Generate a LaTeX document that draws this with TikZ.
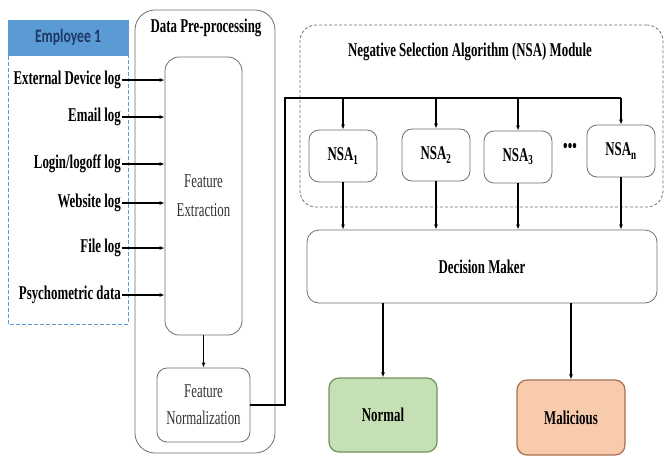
\documentclass[tikz,border=0pt]{standalone}
\usepackage{fontspec}
\setmainfont{Liberation Serif}[FakeStretch=0.66]
\newfontfamily\empfont{Carlito}[FakeStretch=0.72]
\usepackage{xcolor}
\usepackage{tikz}
\usetikzlibrary{arrows.meta}

\definecolor{empblue}{RGB}{91,155,213}
\definecolor{empnavy}{RGB}{31,56,100}
\definecolor{boxgrey}{RGB}{110,110,110}
\definecolor{normalfill}{RGB}{197,224,180}
\definecolor{normaldraw}{RGB}{115,145,95}
\definecolor{malfill}{RGB}{248,203,173}
\definecolor{maldraw}{RGB}{170,110,80}

\begin{document}
\begin{tikzpicture}[x=1pt, y=-1pt,
        font=\rmfamily\fontsize{19.5}{23}\selectfont,
        box/.style={draw=boxgrey, line width=0.8pt, rounded corners=10pt, inner sep=1pt},
        lbl/.style={anchor=east, inner sep=1pt, font=\rmfamily\fontsize{19.5}{23}\selectfont\bfseries},
        ttl/.style={font=\rmfamily\fontsize{19.5}{23}\selectfont\bfseries},
        inarrow/.style={-{Latex[length=5pt,width=4pt]}, line width=1.8pt},
        thinarrow/.style={-{Latex[length=5pt,width=4pt]}, line width=1.1pt}]

                \useasboundingbox (0,0) rectangle (664,456);

                %% Employee
                \draw[empblue, dash pattern=on 4pt off 2pt, line width=1pt] (8,20) rectangle (128,324);
                \node[fill=empblue, draw=empblue, minimum width=120, minimum height=35,
                      font=\empfont\fontsize{19}{22}\selectfont\bfseries, text=empnavy] (emp) at (68,37.5) {Employee 1};

                \node[lbl] (ext)   at (122,80)  {External Device log};
                \node[lbl] (email) at (122,117) {Email log};
                \node[lbl] (login) at (122,164) {Login/logoff log};
                \node[lbl] (web)   at (122,203) {Website log};
                \node[lbl] (file)  at (122,248) {File log};
                \node[lbl] (psy)   at (122,295) {Psychometric data};

                %% Data Pre-processing
                \node[box, rounded corners=20pt, minimum width=140, minimum height=443] (pre) at (205,231.5) {};
                \node[ttl] (pretitle) at (206,28) {Data Pre-processing};

                \node[box, rounded corners=14pt, minimum width=77, minimum height=278, align=center,
                      text=black!80] (fe) at (203.5,196) {Feature\\[6pt]Extraction};
                \node[box, rounded corners=10pt, minimum width=93, minimum height=74, align=center,
                      text=black!80] (fn) at (203.5,405) {Feature\\[4pt]Normalization};

                \draw[inarrow] (ext.east)   -- (ext.east -| fe.west);
                \draw[inarrow] (email.east) -- (email.east -| fe.west);
                \draw[inarrow] (login.east) -- (login.east -| fe.west);
                \draw[inarrow] (web.east)   -- (web.east -| fe.west);
                \draw[inarrow] (file.east)  -- (file.east -| fe.west);
                \draw[inarrow] (psy.east)   -- (psy.east -| fe.west);

                \draw[-{Latex[length=5pt,width=4pt]}, line width=1.4pt] (fe.south) -- (fn.north);

                %% NSA module
                \node[draw=boxgrey, line width=0.8pt, dash pattern=on 3pt off 2pt, rounded corners=16pt,
                      minimum width=363, minimum height=182] (nsa) at (481.5,116) {};
                \node[ttl] (nsatitle) at (470,52) {Negative Selection Algorithm (NSA) Module};

                \node[box, fill=white, minimum width=68, minimum height=52, ttl] (nsa1) at (343,156) {NSA\textsubscript{1}};
                \node[box, fill=white, minimum width=68, minimum height=52, ttl] (nsa2) at (436,155) {NSA\textsubscript{2}};
                \node[box, fill=white, minimum width=68, minimum height=52, ttl] (nsa3) at (518,157) {NSA\textsubscript{3}};
                \node[box, fill=white, minimum width=68, minimum height=52, ttl] (nsan) at (621,151) {NSA\textsubscript{n}};
                \node[ttl] (dots) at (570,148) {•••};

                % bus from normalization
                \coordinate (turn) at (285,98);
                \draw[line width=2.2pt] (fn.east) -| (turn) -- (turn -| nsan.north);
                \draw[thinarrow] (nsa1.north |- turn) -- (nsa1.north);
                \draw[thinarrow] (nsa2.north |- turn) -- (nsa2.north);
                \draw[thinarrow] (nsa3.north |- turn) -- (nsa3.north);
                \draw[thinarrow] (nsan.north |- turn) -- (nsan.north);

                %% Decision Maker
                \node[box, rounded corners=12pt, minimum width=350, minimum height=73, ttl] (dm) at (482,266.5) {Decision Maker};

                \draw[thinarrow] (nsa1.south) -- (nsa1.south |- dm.north);
                \draw[thinarrow] (nsa2.south) -- (nsa2.south |- dm.north);
                \draw[thinarrow] (nsa3.south) -- (nsa3.south |- dm.north);
                \draw[thinarrow] (nsan.south) -- (nsan.south |- dm.north);

                %% Outputs
                \node[box, draw=normaldraw, fill=normalfill, line width=1.2pt, minimum width=108, minimum height=74, ttl] (normal) at (383,415) {Normal};
                \node[box, draw=maldraw, fill=malfill, line width=1.2pt, minimum width=108, minimum height=75, ttl] (mal) at (571,417.5) {Malicious};

                \draw[-{Latex[length=5pt,width=4pt]}, line width=1.4pt] (dm.south -| normal.north) -- (normal.north);
                \draw[-{Latex[length=5pt,width=4pt]}, line width=1.4pt] (dm.south -| mal.north) -- (mal.north);

\end{tikzpicture}
\end{document}
